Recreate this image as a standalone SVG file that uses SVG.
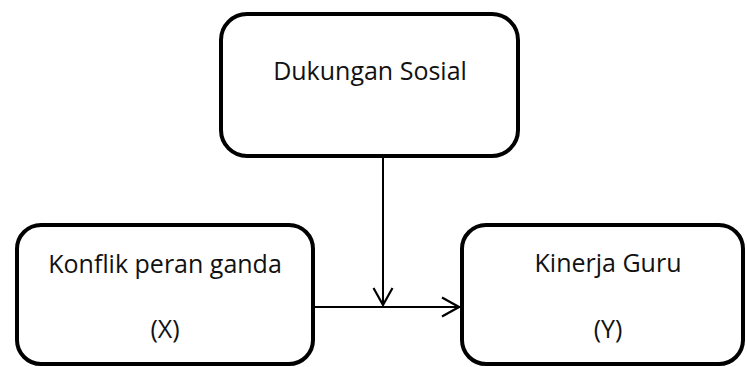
<svg xmlns="http://www.w3.org/2000/svg" width="747" height="367" viewBox="0 0 747 367">
<defs>
<style>
.box{fill:#fff;stroke:#000;stroke-width:4}
.t{font-family:"Open Sans","Noto Sans","Liberation Sans",sans-serif;font-size:25px;fill:#111;text-anchor:middle}
.c{stroke:#000;stroke-width:2;fill:none}
</style>
<marker id="ah" viewBox="0 0 20 22" refX="18" refY="11" markerWidth="20" markerHeight="22" markerUnits="userSpaceOnUse" orient="auto">
<path d="M1,1.5 L18,11 L1,20.5" fill="none" stroke="#000" stroke-width="2.2"/>
</marker>
</defs>
<rect width="747" height="367" fill="#fff"/>
<g id="dukungan">
<rect class="box" x="221" y="14" width="297" height="142" rx="26"/>
<text class="t" x="370" y="80">Dukungan Sosial</text>
</g>
<g id="konflik">
<rect class="box" x="17" y="225" width="296" height="139" rx="24"/>
<text class="t" x="165" y="273">Konflik peran ganda</text>
<text class="t" x="165" y="338">(X)</text>
</g>
<g id="kinerja">
<rect class="box" x="462" y="225" width="281" height="139" rx="24"/>
<text class="t" x="608" y="272">Kinerja Guru</text>
<text class="t" x="608" y="338">(Y)</text>
</g>
<g id="connectors">
<line class="c" x1="383" y1="157" x2="383" y2="305" marker-end="url(#ah)"/>
<line class="c" x1="315" y1="307" x2="459" y2="307" marker-end="url(#ah)"/>
</g>
</svg>
